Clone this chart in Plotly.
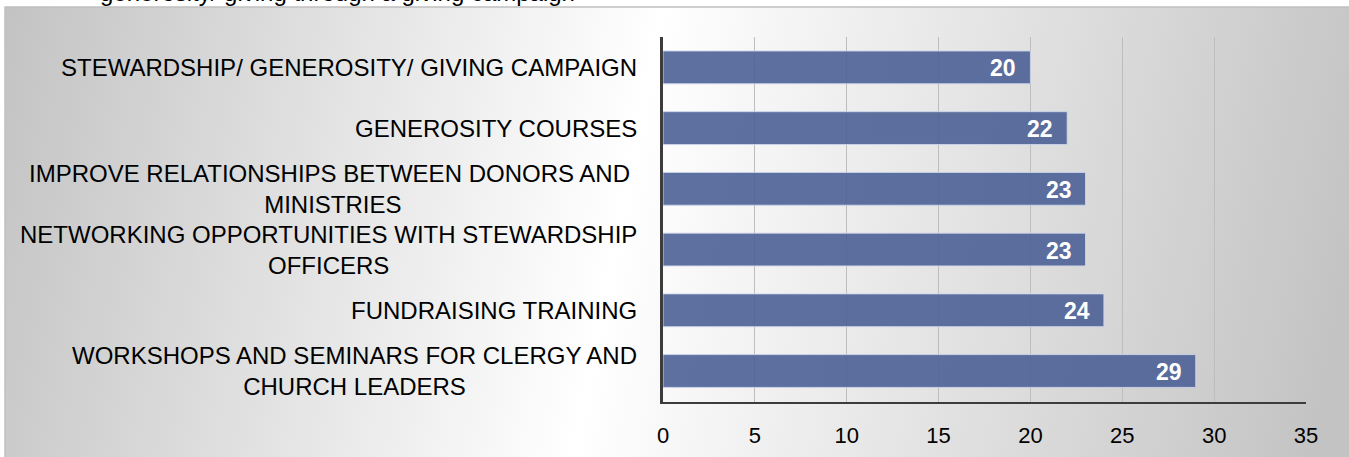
import base64
import plotly.graph_objects as go

# survey answers, listed top to bottom as in the chart
labels = [
    "STEWARDSHIP/ GENEROSITY/ GIVING CAMPAIGN",
    "GENEROSITY COURSES",
    "IMPROVE RELATIONSHIPS BETWEEN DONORS AND <br>MINISTRIES",
    "NETWORKING OPPORTUNITIES WITH STEWARDSHIP<br>OFFICERS",
    "FUNDRAISING TRAINING",
    "WORKSHOPS AND SEMINARS FOR CLERGY AND<br>CHURCH LEADERS",
]
counts = [20, 22, 23, 23, 24, 29]
x_ticks = [0, 5, 10, 15, 20, 25, 30, 35]
cut_heading = "generosity/ giving through a giving campaign"

W, H = 1349, 457
L, R, T, B = 663, 43, 37, 55

FONT = "Liberation Sans, Arial"


def px_x(p):
    # page pixel -> paper x
    return (p - L) / (W - L - R)


def px_y(p):
    # page pixel -> paper y
    return 1 - (p - T) / (H - T - B)


# grey-white-grey card background
svg = (
    '<svg xmlns="http://www.w3.org/2000/svg" width="1344" height="450" '
    'viewBox="0 0 1344 450" preserveAspectRatio="none">'
    '<defs><linearGradient id="g" gradientUnits="userSpaceOnUse" x1="0" y1="0" x2="1344" y2="269">'
    '<stop offset="0" stop-color="rgb(195,195,195)"/>'
    '<stop offset="0.47" stop-color="rgb(255,255,255)"/>'
    '<stop offset="1" stop-color="rgb(195,195,195)"/>'
    '</linearGradient></defs>'
    '<rect width="1344" height="450" fill="url(#g)"/></svg>'
)
bg_src = "data:image/svg+xml;base64," + base64.b64encode(svg.encode()).decode()

fig = go.Figure(go.Bar(
    x=counts, y=labels,
    orientation="h",
    marker=dict(color="rgba(76,96,150,0.9)",
                line=dict(color="rgba(205,213,235,0.9)", width=1)),
    hoverinfo="x+y",
))

# category labels, centred lines, right-aligned block
for lab in labels:
    fig.add_annotation(
        x=0, xref="paper", xanchor="right", xshift=-24,
        y=lab, yref="y", text=lab, showarrow=False, align="center",
        font=dict(family=FONT, size=24, color="#000000"),
    )

# value labels inside the bar ends
for lab, v in zip(labels, counts):
    fig.add_annotation(
        x=v, y=lab, xanchor="right", xshift=-12, yshift=-1,
        text="<b>%d</b>" % v, showarrow=False,
        font=dict(family=FONT, size=23, color="#ffffff"),
    )

# heading cut off at the top of the page
fig.add_annotation(
    x=px_x(98), xref="paper", xanchor="left",
    y=px_y(8), yref="paper", yanchor="bottom",
    text=cut_heading, showarrow=False,
    font=dict(family=FONT, size=24, color="#000000"),
)

fig.add_layout_image(
    source=bg_src, xref="paper", yref="paper",
    x=px_x(5), y=px_y(7), sizex=px_x(1352) - px_x(5), sizey=px_y(7) - px_y(460),
    xanchor="left", yanchor="top", sizing="stretch", layer="below",
)

fig.add_shape(
    type="rect", xref="paper", yref="paper",
    x0=px_x(5), x1=px_x(1360), y0=px_y(7), y1=px_y(470),
    line=dict(color="#c0c0c0", width=1.5), layer="below",
)

fig.update_layout(
    width=W, height=H,
    margin=dict(l=L, r=R, t=T, b=B),
    paper_bgcolor="#ffffff",
    plot_bgcolor="rgba(0,0,0,0)",
    bargap=0.46,
    showlegend=False,
    xaxis=dict(
        range=[0, 35], tickvals=x_ticks, showgrid=True, automargin=False,
        gridcolor="#bdbdbd", gridwidth=1, zeroline=False,
        showline=True, linecolor="#3c3c3c", linewidth=2,
        ticks="", ticklabelstandoff=13,
        tickfont=dict(family=FONT, size=22, color="#000000"),
    ),
    yaxis=dict(
        autorange="reversed", showticklabels=False, showgrid=False,
        automargin=False, zeroline=False, showline=True,
        linecolor="#3c3c3c", linewidth=3, ticks="",
    ),
)

# drop the browser's default page margin so the chart sits at the page corner
fig.write_html(
    "out.html",
    config={"displayModeBar": False},
    post_script="document.body.style.margin = '0'; document.body.style.overflow = 'hidden';",
)
